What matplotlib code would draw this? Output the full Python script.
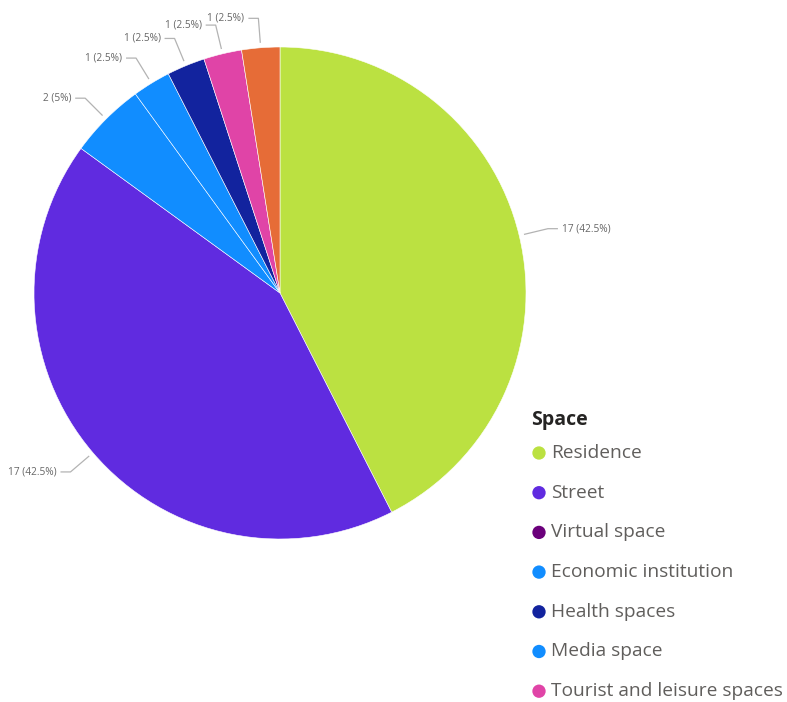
import numpy as np
import matplotlib
matplotlib.use("Agg")
import matplotlib.pyplot as plt

# Counts per space, in the order the slices run clockwise from 12 o'clock
categories = ["Residence", "Street", "Virtual space", "Economic institution",
              "Media space", "Health spaces", "Tourist and leisure spaces", "Other"]
counts = [17, 17, 0, 2, 1, 1, 1, 1]
colors = ["#BBE141", "#602BE0", "#6B007B", "#118DFF",
          "#118DFF", "#12239E", "#E044A7", "#E66C37"]

# Legend rows as listed in the legend panel (last row is clipped off)
legend_items = ["Residence", "Street", "Virtual space", "Economic institution",
                "Health spaces", "Media space", "Tourist and leisure spaces"]
legend_title = "Space"

W, H = 787, 702
fig = plt.figure(figsize=(W / 100, H / 100), dpi=100)
ax = fig.add_axes([0, 0, 1, 1])

cx, cy, R = 280, H - 293, 246

# only non-empty slices go into the pie
vals = [c for c in counts if c > 0]
cols = [colors[i] for i, c in enumerate(counts) if c > 0]
ax.pie(vals, colors=cols, center=(cx, cy), radius=R, startangle=90,
       counterclock=False, frame=True,
       wedgeprops=dict(edgecolor="white", linewidth=0.4))
ax.set_xlim(0, W)
ax.set_ylim(0, H)
ax.set_aspect("equal")
ax.axis("off")

# data labels with elbow leader lines
total = sum(vals)
start = 0.0
lab_font = dict(family="Open Sans", fontsize=7.3, color="#666666")
for v in vals:
    mid = np.deg2rad(90 - (start + v / 2) / total * 360)
    start += v
    x0, y0 = cx + 1.02 * R * np.cos(mid), cy + 1.02 * R * np.sin(mid)
    x1, y1 = cx + 1.12 * R * np.cos(mid), cy + 1.12 * R * np.sin(mid)
    side = 1 if np.cos(mid) >= 0 else -1
    x2 = x1 + side * 10
    ax.plot([x0, x1, x2], [y0, y1, y1], color="#b3b3b3", lw=0.9,
            solid_capstyle="butt")
    pct = v / total * 100
    txt = f"{v} ({pct:g}%)"
    ax.text(x2 + side * 4, y1, txt, ha="left" if side > 0 else "right",
            va="center", **lab_font)

# legend panel
lx, ly, step = 531, H - 420, 39.7
ax.text(lx, ly, legend_title, family="Open Sans", fontsize=14,
        fontweight="bold", color="#252423", ha="left", va="center")
for i, name in enumerate(legend_items):
    y = ly - (i + 1) * step + 6.7
    col = colors[categories.index(name)]
    ax.scatter([lx + 8], [y], s=92, color=col, edgecolors="none")
    ax.text(lx + 20, y, name, family="Open Sans", fontsize=13.8,
            color="#605E5C", ha="left", va="center")

fig.savefig("out.png", dpi=100, facecolor="white")
